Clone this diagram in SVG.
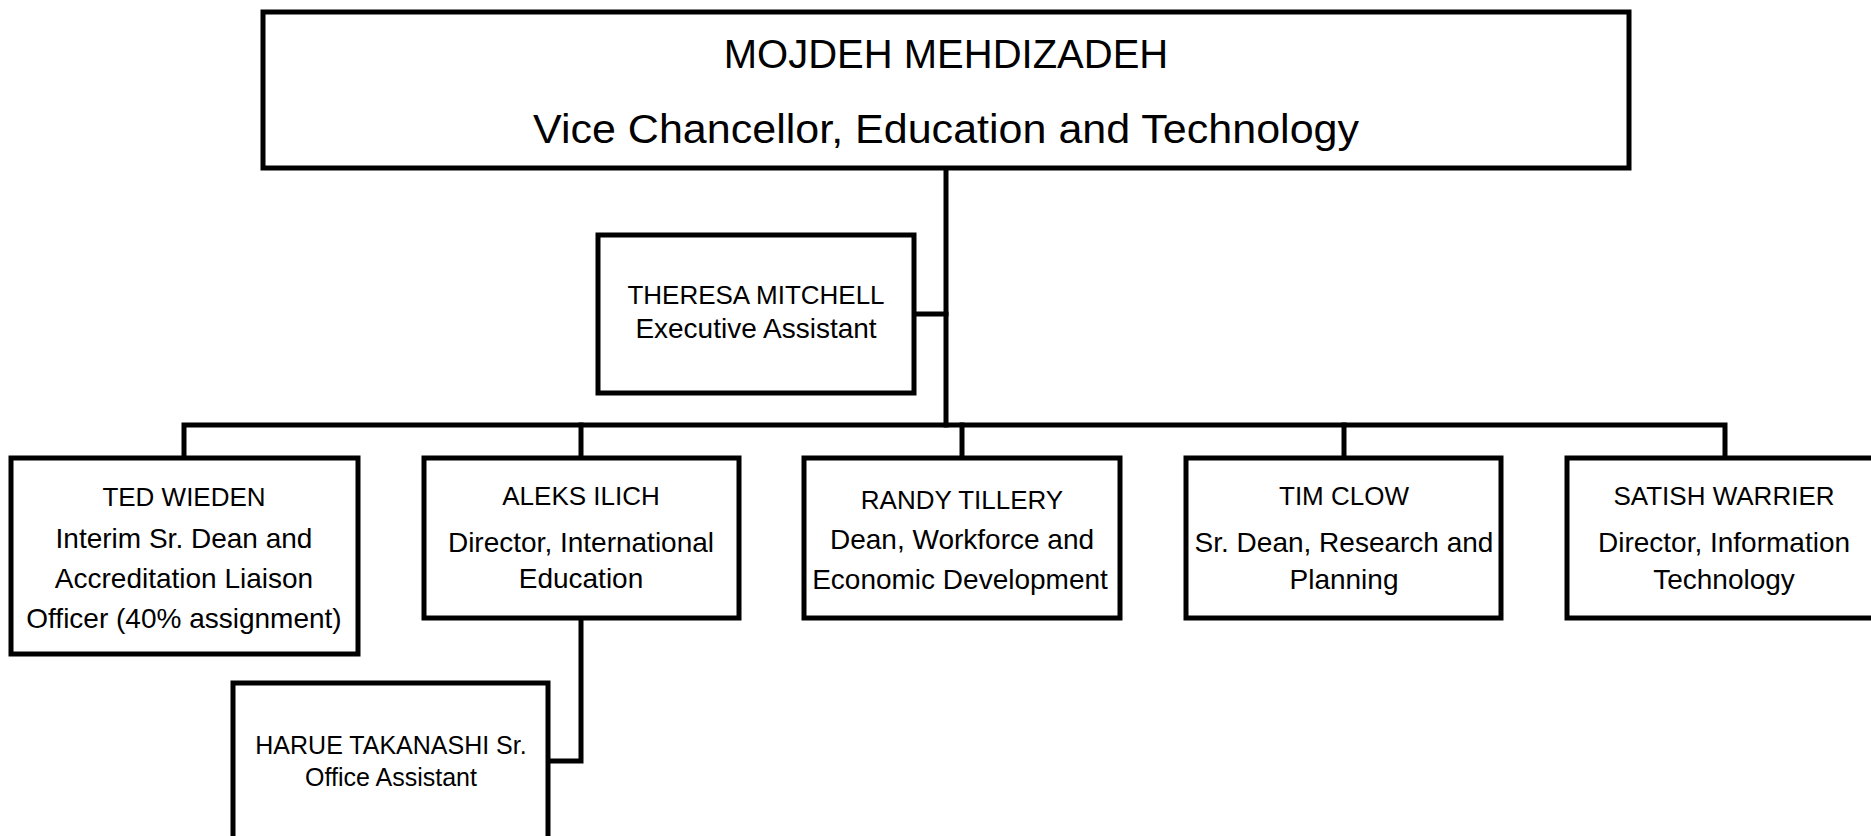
<svg xmlns="http://www.w3.org/2000/svg" width="1871" height="836" viewBox="0 0 1871 836">
<style>
.box{fill:#fff;stroke:#000;stroke-width:5}
.conn{fill:none;stroke:#000;stroke-width:5;stroke-linejoin:miter;stroke-linecap:square}
text{font-family:"Liberation Sans",Arial,sans-serif;fill:#000;text-anchor:middle}
.big{font-size:40px}
.nm{font-size:26px}
.tt{font-size:28px}
.sm{font-size:25px}
</style>
<rect width="1871" height="836" fill="#fff"/>
<g id="connectors">
<path class="conn" d="M946 168 V425"/>
<path class="conn" d="M914 314 H946"/>
<path class="conn" d="M184 458 V425 H1725 V458"/>
<path class="conn" d="M581 425 V458"/>
<path class="conn" d="M962 425 V458"/>
<path class="conn" d="M1344 425 V458"/>
<path class="conn" d="M581 618 V761 H548"/>
</g>
<g id="node-mehdizadeh">
<rect class="box" x="263" y="12" width="1366" height="156"/>
<text class="big" x="946" y="68">MOJDEH MEHDIZADEH</text>
<text class="big" x="946" y="143" textLength="826" lengthAdjust="spacingAndGlyphs">Vice Chancellor, Education and Technology</text>
</g>
<g id="node-mitchell">
<rect class="box" x="598" y="235" width="316" height="158"/>
<text class="nm" x="756" y="304">THERESA MITCHELL</text>
<text class="tt" x="756" y="338">Executive Assistant</text>
</g>
<g id="node-wieden">
<rect class="box" x="11" y="458" width="347" height="196"/>
<text class="nm" x="184" y="506">TED WIEDEN</text>
<text class="tt" x="184" y="548">Interim Sr. Dean and</text>
<text class="tt" x="184" y="588">Accreditation Liaison</text>
<text class="tt" x="184" y="628">Officer (40% assignment)</text>
</g>
<g id="node-ilich">
<rect class="box" x="424" y="458" width="315" height="160"/>
<text class="nm" x="581" y="505">ALEKS ILICH</text>
<text class="tt" x="581" y="552">Director, International</text>
<text class="tt" x="581" y="588">Education</text>
</g>
<g id="node-tillery">
<rect class="box" x="804" y="458" width="316" height="160"/>
<text class="nm" x="962" y="509">RANDY TILLERY</text>
<text class="tt" x="962" y="549">Dean, Workforce and</text>
<text class="tt" x="960" y="589">Economic Development</text>
</g>
<g id="node-clow">
<rect class="box" x="1186" y="458" width="315" height="160"/>
<text class="nm" x="1344" y="505">TIM CLOW</text>
<text class="tt" x="1344" y="552">Sr. Dean, Research and</text>
<text class="tt" x="1344" y="589">Planning</text>
</g>
<g id="node-warrier">
<rect class="box" x="1567" y="458" width="310" height="160"/>
<text class="nm" x="1724" y="505">SATISH WARRIER</text>
<text class="tt" x="1724" y="552">Director, Information</text>
<text class="tt" x="1724" y="589">Technology</text>
</g>
<g id="node-takanashi">
<rect class="box" x="233" y="683" width="315" height="170"/>
<text class="sm" x="391" y="754">HARUE TAKANASHI Sr.</text>
<text class="sm" x="391" y="786">Office Assistant</text>
</g>
</svg>
